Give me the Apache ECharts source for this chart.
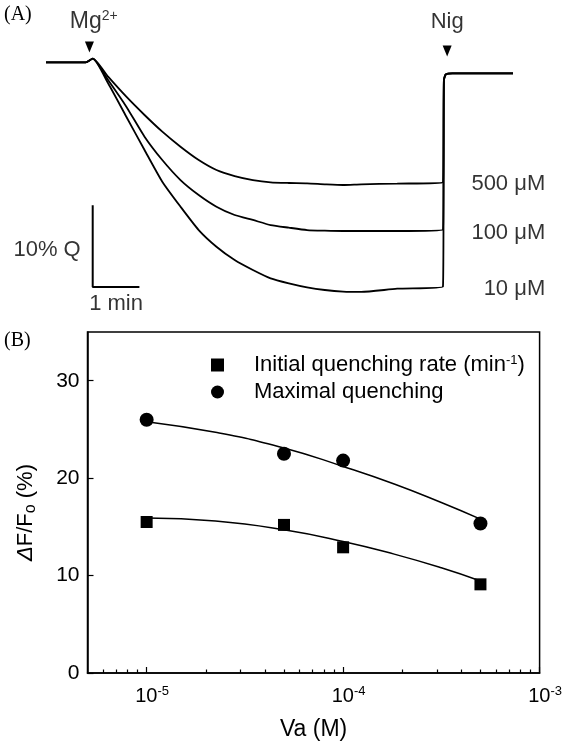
<!DOCTYPE html>
<html>
<head>
<meta charset="utf-8">
<title>Mg2+ quenching</title>
<style>html,body{margin:0;padding:0;background:#fff;}</style>
</head>
<body>
<div id="main" style="width:565px;height:746px;"></div>
<script src="https://cdn.jsdelivr.net/npm/echarts@6/dist/echarts.min.js"></script>
<script>
// ---- panel A: fluorescence traces (time in min, quenching in %) ----
var traceTime = [0, 0.85, 1.0, 1.33, 1.72, 2.11, 2.49, 2.88, 3.27, 3.65, 4.04, 4.43, 4.81, 5.20, 5.59, 5.97, 6.36, 6.75, 7.52, 8.50];
var q500 = [0, 0, -0.45, 1.76, 4.21, 6.45, 8.49, 10.33, 11.96, 13.18, 13.92, 14.41, 14.69, 14.77, 14.81, 14.93, 15.02, 14.93, 14.85, 14.7];
var q100 = [0, 0, -0.45, 2.17, 5.43, 9.10, 11.96, 14.41, 16.24, 17.67, 18.69, 19.30, 19.92, 20.24, 20.53, 20.61, 20.65, 20.65, 20.65, 20.5];
var q10  = [0, 0, -0.45, 2.57, 6.66, 10.73, 14.61, 17.67, 20.53, 22.57, 24.20, 25.42, 26.44, 27.05, 27.54, 27.87, 28.07, 28.11, 27.71, 27.46];
// after nigericin
var nigTime = [8.52, 8.56, 8.70, 10.0];
var nigQ = [2.2, 1.5, 1.35, 1.35];
var traceNames = ['500 μM', '100 μM', '10 μM'];
// scale bar: 10 % Q by 1 min
var barT = [1.0, 1.0, 2.0];
var barQ = [17.5, 27.5, 27.5];

// ---- panel B ----
var va = [1e-5, 5e-5, 1e-4, 5e-4];
var rate = [15.5, 15.2, 12.9, 9.1];
var maxQ = [26.0, 22.5, 21.8, 15.35];
var fitVa = [1e-5, 2.24e-5, 5e-5, 1e-4, 1.82e-4, 3.16e-4, 5e-4];
var fitRate = [15.9, 15.6, 14.7, 13.5, 12.2, 10.8, 9.45];
var fitMax = [25.8, 24.7, 23.1, 21.2, 19.4, 17.5, 15.8];
var majorTicks = [1e-5, 1e-4, 1e-3];
var minorTicks = [6e-6, 7e-6, 8e-6, 9e-6,
    2e-5, 3e-5, 4e-5, 5e-5, 6e-5, 7e-5, 8e-5, 9e-5,
    2e-4, 3e-4, 4e-4, 5e-4, 6e-4, 7e-4, 8e-4, 9e-4];
var yTicks = [0, 10, 20, 30];
var seriesNames = ['Initial quenching rate', 'Maximal quenching'];

var FONT = 'Liberation Sans, Arial, sans-serif';
var lg = Math.log10;

function trace(q) {
    var d = [];
    for (var i = 0; i < traceTime.length; i++) d.push([traceTime[i], q[i]]);
    for (var j = 0; j < nigTime.length; j++) d.push([nigTime[j], nigQ[j]]);
    return d;
}
function pairs(xs, ys) {
    return xs.map(function (x, i) { return [lg(x), ys[i]]; });
}

var myChart = echarts.init(document.getElementById('main'));

var txt = { color: '#000', fontFamily: FONT, fontSize: 22 };
var supRich = {
    a: { color: '#000', fontFamily: FONT, fontSize: 23, lineHeight: 24 },
    s: { color: '#000', fontFamily: FONT, fontSize: 14, lineHeight: 14, verticalAlign: 'top' }
};

var traceSeries = [q500, q100, q10].map(function (q, i) {
    return {
        name: traceNames[i],
        type: 'line',
        xAxisIndex: 0, yAxisIndex: 0,
        data: trace(q),
        symbol: 'none',
        smooth: 0.2,
        lineStyle: { color: '#000', width: 1.8 }
    };
});

myChart.setOption({
    animation: false,
    title: [
        { text: '(A)', left: 4, top: 5, padding: 0,
          textStyle: { fontFamily: 'Liberation Serif, serif', fontSize: 20, fontWeight: 'normal', color: '#000' } },
        { text: '(B)', left: 4, top: 331, padding: 0,
          textStyle: { fontFamily: 'Liberation Serif, serif', fontSize: 20, fontWeight: 'normal', color: '#000' } }
    ],
    legend: {
        data: [{ name: seriesNames[0], icon: 'rect' }, { name: seriesNames[1], icon: 'circle' }],
        orient: 'vertical',
        left: 211, top: 354,
        padding: 0,
        itemWidth: 13, itemHeight: 13, itemGap: 5,
        itemStyle: { opacity: 1 },
        formatter: function (name) {
            if (name === seriesNames[0]) return '{g|}{a|Initial quenching rate (min}{s|-1}{a|)}';
            return '{g|}{a|Maximal quenching}';
        },
        textStyle: {
            rich: {
                g: { width: 25 },
                a: { color: '#000', fontFamily: FONT, fontSize: 22, lineHeight: 22 },
                s: { color: '#000', fontFamily: FONT, fontSize: 13, lineHeight: 13, verticalAlign: 'top' }
            }
        }
    },
    grid: [
        { left: 46, top: 5.11, width: 513.7, height: 302.3 },
        { left: 87.5, right: 24, top: 332, bottom: 73, show: true, borderColor: '#000', borderWidth: 1.5 }
    ],
    xAxis: [
        { type: 'value', gridIndex: 0, min: 0, max: 11, show: false },
        {
            type: 'value', gridIndex: 1, position: 'bottom',
            min: lg(5e-6), max: -3,
            axisLine: { show: true, lineStyle: { color: '#000', width: 1.5 } },
            axisTick: { show: true, inside: true, length: 6, customValues: majorTicks.map(lg), lineStyle: { color: '#000', width: 1.2 } },
            axisLabel: {
                customValues: majorTicks.map(lg),
                margin: 12,
                formatter: function (v) {
                    return '{p|}{b|10}{s|' + Math.round(v) + '}';
                },
                rich: {
                    p: { width: 11 },
                    b: { color: '#000', fontFamily: FONT, fontSize: 20, lineHeight: 22 },
                    s: { color: '#000', fontFamily: FONT, fontSize: 13, lineHeight: 13, verticalAlign: 'top' }
                }
            },
            splitLine: { show: false },
            name: 'Va (M)',
            nameLocation: 'middle',
            nameGap: 45,
            nameTextStyle: { color: '#000', fontFamily: FONT, fontSize: 23 }
        },
        {
            type: 'value', gridIndex: 1, position: 'bottom',
            min: lg(5e-6), max: -3,
            axisLine: { show: false },
            axisTick: { show: true, inside: true, length: 3.5, customValues: minorTicks.map(lg), lineStyle: { color: '#000', width: 1.2 } },
            axisLabel: { show: false },
            splitLine: { show: false }
        }
    ],
    yAxis: [
        { type: 'value', gridIndex: 0, min: -7, max: 30, inverse: true, show: false },
        {
            type: 'value', gridIndex: 1, min: 0, max: 35,
            axisLine: { show: true, lineStyle: { color: '#000', width: 1.5 } },
            axisTick: { show: true, inside: true, length: 6, customValues: yTicks, lineStyle: { color: '#000', width: 1.2 } },
            axisLabel: { customValues: yTicks, margin: 8, color: '#000', fontFamily: FONT, fontSize: 21 },
            splitLine: { show: false },
            name: '{d|Δ}{a|F/F}{o|o}{a| (%)}',
            nameLocation: 'middle',
            nameRotate: 90,
            nameGap: 49,
            nameTextStyle: {
                padding: [0, 20, 0, 0],
                rich: {
                    d: { color: '#000', fontFamily: FONT, fontSize: 22, fontStyle: 'italic', lineHeight: 26 },
                    a: { color: '#000', fontFamily: FONT, fontSize: 22, lineHeight: 26 },
                    o: { color: '#000', fontFamily: FONT, fontSize: 16, lineHeight: 16, verticalAlign: 'bottom' }
                }
            }
        }
    ],
    series: traceSeries.concat([
        {
            name: 'scale bar', type: 'line', xAxisIndex: 0, yAxisIndex: 0,
            data: barT.map(function (t, i) { return [t, barQ[i]]; }),
            symbol: 'none',
            lineStyle: { color: '#000', width: 2 }
        },
        {
            name: 'arrows', type: 'scatter', xAxisIndex: 0, yAxisIndex: 0,
            symbol: 'triangle', symbolRotate: 180, symbolSize: [9, 11],
            itemStyle: { color: '#000', opacity: 1 },
            data: [[0.93, -1.87], [8.59, -1.38]]
        },
        {
            name: 'labels A', type: 'scatter', xAxisIndex: 0, yAxisIndex: 0,
            symbolSize: 0, clip: false, silent: true,
            data: [
                { value: [0.51, -5.0], label: { show: true, position: 'right', distance: 0, formatter: '{a|Mg}{s|2+}', rich: supRich } },
                { value: [8.59, -4.9], label: { show: true, position: 'inside', formatter: 'Nig' } },
                { value: [10.69, 14.9], label: { show: true, position: 'left', distance: 0, formatter: traceNames[0] } },
                { value: [10.69, 20.9], label: { show: true, position: 'left', distance: 0, formatter: traceNames[1] } },
                { value: [10.69, 27.8], label: { show: true, position: 'left', distance: 0, formatter: traceNames[2] } },
                { value: [1.0, 23.0], label: { show: true, position: 'left', distance: 12, formatter: '10% Q' } },
                { value: [1.5, 27.5], label: { show: true, position: 'bottom', distance: 6, formatter: '1 min' } }
            ],
            label: txt
        },
        {
            name: seriesNames[0], type: 'scatter', xAxisIndex: 1, yAxisIndex: 1,
            symbol: 'rect', symbolSize: 12,
            itemStyle: { color: '#000', opacity: 1 },
            data: pairs(va, rate), z: 3
        },
        {
            name: seriesNames[1], type: 'scatter', xAxisIndex: 1, yAxisIndex: 1,
            symbol: 'circle', symbolSize: 14,
            itemStyle: { color: '#000', opacity: 1 },
            data: pairs(va, maxQ), z: 3
        },
        {
            name: 'fit rate', type: 'line', xAxisIndex: 1, yAxisIndex: 1,
            data: pairs(fitVa, fitRate), symbol: 'none', smooth: 0.5,
            lineStyle: { color: '#000', width: 1.5 }
        },
        {
            name: 'fit max', type: 'line', xAxisIndex: 1, yAxisIndex: 1,
            data: pairs(fitVa, fitMax), symbol: 'none', smooth: 0.5,
            lineStyle: { color: '#000', width: 1.5 }
        }
    ])
});
</script>
</body>
</html>
